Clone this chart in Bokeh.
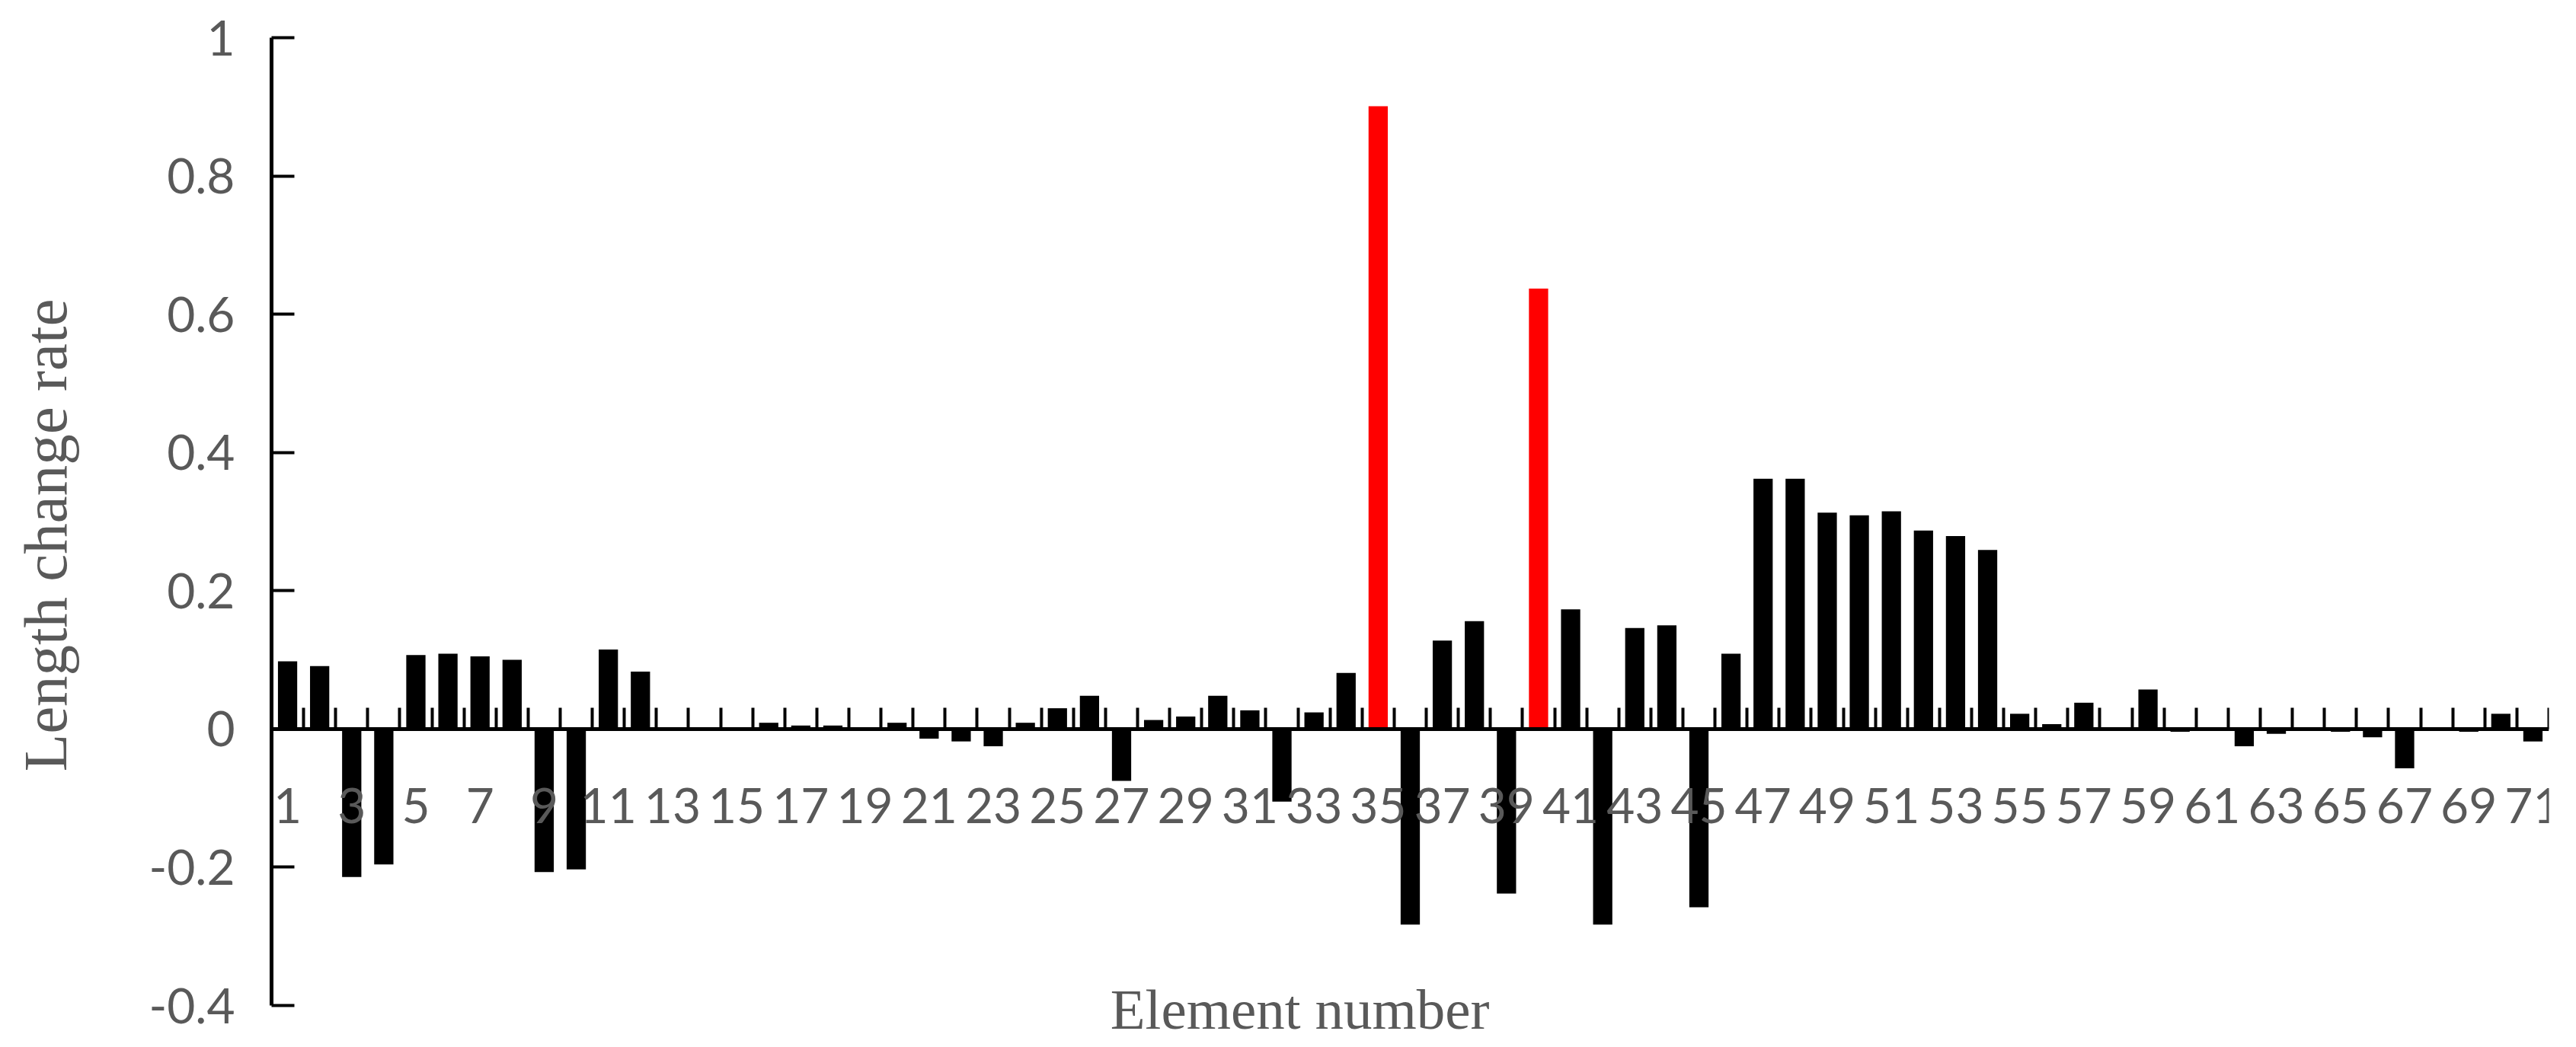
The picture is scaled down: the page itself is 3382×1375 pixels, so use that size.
from bokeh.plotting import figure
from bokeh.models import (Range1d, LinearAxis, FixedTicker, CustomJSTickFormatter,
                          ColumnDataSource, Label)
from bokeh.embed import file_html
from bokeh.resources import INLINE

# ---- data ----
element = list(range(1, 72))
rate = [0.098, 0.091, -0.214, -0.196, 0.107, 0.109, 0.105, 0.100, -0.207, -0.203,
        0.115, 0.083, 0.0, 0.0, 0.0, 0.009, 0.005, 0.005, 0.0, 0.009,
        -0.014, -0.018, -0.025, 0.009, 0.030, 0.048, -0.075, 0.013, 0.018, 0.048,
        0.027, -0.105, 0.024, 0.081, 0.901, -0.283, 0.128, 0.156, -0.238, 0.637,
        0.173, -0.283, 0.146, 0.150, -0.258, 0.109, 0.362, 0.362, 0.313, 0.309,
        0.315, 0.287, 0.279, 0.259, 0.022, 0.007, 0.038, 0.0, 0.057, -0.004,
        0.0, -0.025, -0.007, 0.0, -0.004, -0.012, -0.057, 0.0, -0.004, 0.022,
        -0.018]
highlight = [35, 40]
x_label_elements = list(range(1, 72, 2))
x_tick_labels = [str(e) for e in x_label_elements]
y_ticks = [-0.4, -0.2, 0.0, 0.2, 0.4, 0.6, 0.8, 1.0]
x_title = "Element number"
y_title = "Length change rate"

GRAY = "#595959"
colors = ["#FF0000" if e in highlight else "#000000" for e in element]
src = ColumnDataSource(dict(element=element, rate=rate, color=colors))

# ---- layout (pixels) ----
W, H = 3380, 1373
LEFT, RIGHT, TOP, BOTTOM = 356, 34, 49, 17
AXIS_PX = 1271                       # pixel height of the axis span y_ticks[0]..y_ticks[-1]
px_per_unit = AXIS_PX / (y_ticks[-1] - y_ticks[0])
frame_h = H - TOP - BOTTOM
y_lo = y_ticks[-1] - frame_h / px_per_unit   # frame extends below the axis to hold the x title

p = figure(width=W, height=H, output_backend="svg", toolbar_location=None,
           x_range=Range1d(0.5, len(element) + 0.5), y_range=Range1d(y_lo, y_ticks[-1]),
           x_axis_location=None, y_axis_location=None,
           min_border_left=LEFT, min_border_right=RIGHT, min_border_top=TOP,
           min_border_bottom=BOTTOM,
           background_fill_color="white", border_fill_color="white")
p.outline_line_color = None
p.xgrid.visible = False
p.ygrid.visible = False

p.vbar(x="element", top="rate", bottom=0, width=0.6, fill_color="color",
       line_color=None, source=src)

# y axis
yax = LinearAxis(ticker=FixedTicker(ticks=y_ticks, minor_ticks=[]),
                 bounds=(y_ticks[0], y_ticks[-1]),
                 formatter=CustomJSTickFormatter(code="return tick.toFixed(1).replace('.0','')"))
yax.axis_line_width = 5
yax.axis_line_color = "black"
yax.major_tick_in = 30
yax.major_tick_out = 0
yax.major_tick_line_width = 4
yax.major_tick_line_color = "black"
yax.minor_tick_line_color = None
yax.major_label_text_font = "Lato"
yax.major_label_text_font_size = "64px"
yax.major_label_text_color = GRAY
yax.major_label_standoff = 48
yax.axis_label = y_title
yax.axis_label_text_font = "Liberation Serif"
yax.axis_label_text_font_size = "81px"
yax.axis_label_text_font_style = "normal"
yax.axis_label_text_color = GRAY
yax.axis_label_standoff = 87
p.add_layout(yax, "left")

# x axis drawn at y = 0
boundaries = [e - 0.5 for e in element] + [element[-1] + 0.5]
xax = LinearAxis(fixed_location=0,
                 ticker=FixedTicker(ticks=x_label_elements, minor_ticks=boundaries))
xax.major_label_overrides = {e: s for e, s in zip(x_label_elements, x_tick_labels)}
xax.axis_line_width = 5
xax.axis_line_color = "black"
xax.major_tick_in = 0
xax.major_tick_out = 0
xax.minor_tick_in = 28
xax.minor_tick_out = 0
xax.minor_tick_line_width = 4
xax.minor_tick_line_color = "black"
xax.major_label_text_font = "Lato"
xax.major_label_text_font_size = "64px"
xax.major_label_text_color = GRAY
xax.major_label_standoff = 78
p.add_layout(xax, "below")

p.add_layout(Label(x=32.56, y=y_ticks[0] - 5 / px_per_unit, text=x_title,
                   text_font="Liberation Serif", text_font_size="75px", text_color=GRAY,
                   text_align="center", text_baseline="middle"))

open("out.html", "w").write(file_html(p, INLINE))
